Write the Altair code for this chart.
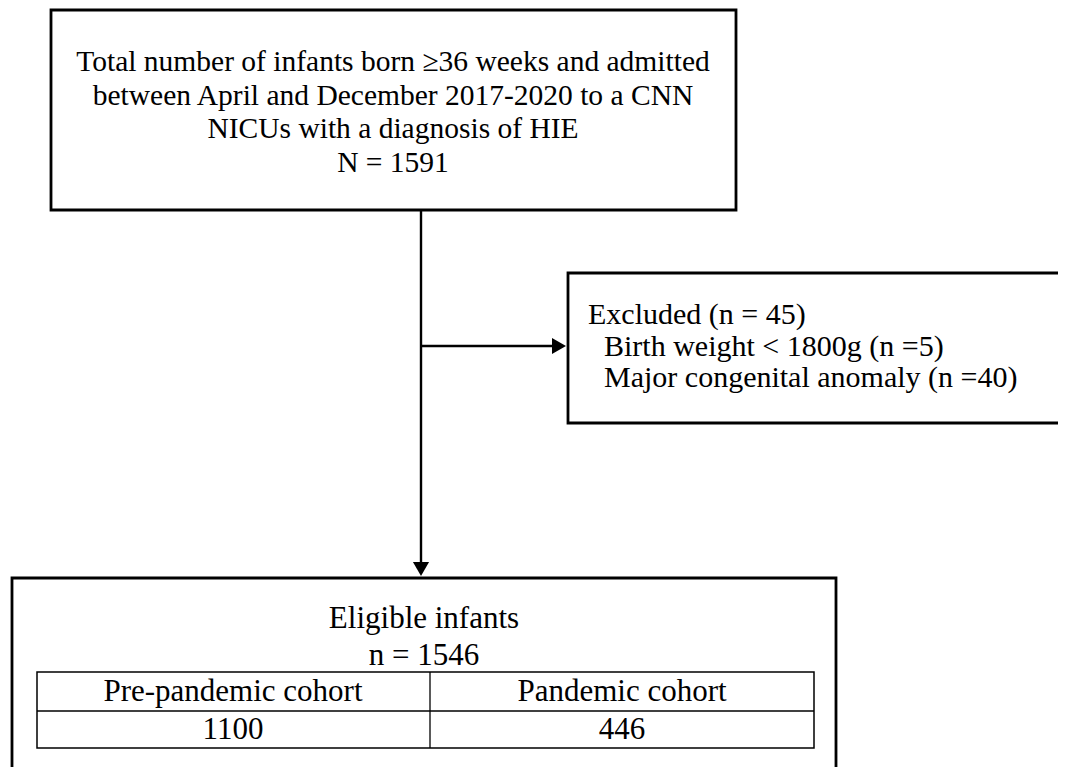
import altair as alt
import pandas as pd

# ---- text content ----
top_lines = [
    "Total number of infants born \u226536 weeks and admitted",
    "between April and December 2017-2020 to a CNN",
    "NICUs with a diagnosis of HIE",
    "N = 1591",
]
excl_head = ["Excluded (n = 45)"]
excl_items = [
    "Birth weight < 1800g (n =5)",
    "Major congenital anomaly (n =40)",
]
elig_lines = ["Eligible infants", "n = 1546"]
cohorts = ["Pre-pandemic cohort", "Pandemic cohort"]
cohort_counts = ["1100", "446"]

# ---- layout (reference pixel coordinates) ----
W, H = 1066, 775
M = 8
xs = alt.Scale(domain=[M, W - M], range=[0, W - 2 * M])
ys = alt.Scale(domain=[M, H - M], range=[0, H - 2 * M])

boxes = pd.DataFrame([
    {"x": 51, "x2": 736, "y": 10, "y2": 210},     # top box
    {"x": 568, "x2": 1080, "y": 273, "y2": 423},  # excluded box
    {"x": 12, "x2": 836, "y": 578, "y2": 800},    # eligible box
])
table = pd.DataFrame([
    {"x": 37, "x2": 814, "y": 672, "y2": 748},
])
rules = pd.DataFrame([
    {"x": 421, "x2": 421, "y": 210, "y2": 566},   # main vertical
    {"x": 421, "x2": 556, "y": 346, "y2": 346},   # side branch
])
table_rules = pd.DataFrame([
    {"x": 37, "x2": 814, "y": 711, "y2": 711},
    {"x": 430, "x2": 430, "y": 672, "y2": 748},
])
heads = pd.DataFrame([
    {"x": 559, "y": 346, "shape": "triangle-right"},
    {"x": 421, "y": 569, "shape": "triangle-down"},
])

top_df = pd.DataFrame({"t": top_lines, "x": [393] * 4, "y": [62, 96, 129, 163]})
excl_h_df = pd.DataFrame({"t": excl_head, "x": [588], "y": [315]})
excl_i_df = pd.DataFrame({"t": excl_items, "x": [604] * 2, "y": [347, 378]})
elig_df = pd.DataFrame({"t": elig_lines, "x": [424] * 2, "y": [619, 656]})
tab_df = pd.DataFrame({
    "t": cohorts + cohort_counts,
    "x": [233, 622, 233, 622],
    "y": [692, 692, 730, 730],
})

FONT = "Liberation Serif"

def X(f="x"):
    return alt.X(f + ":Q", scale=xs, axis=None)

def Y(f="y"):
    return alt.Y(f + ":Q", scale=ys, axis=None)

box_layer = alt.Chart(boxes).mark_rect(
    fill="white", stroke="black", strokeWidth=2.8
).encode(x=X(), x2="x2:Q", y=Y(), y2="y2:Q")

table_layer = alt.Chart(table).mark_rect(
    fill="white", stroke="black", strokeWidth=1.5
).encode(x=X(), x2="x2:Q", y=Y(), y2="y2:Q")

rule_layer = alt.Chart(rules).mark_rule(color="black", strokeWidth=2.4).encode(
    x=X(), x2="x2:Q", y=Y(), y2="y2:Q"
)
table_rule_layer = alt.Chart(table_rules).mark_rule(color="black", strokeWidth=1.3).encode(
    x=X(), x2="x2:Q", y=Y(), y2="y2:Q"
)
head_layer = alt.Chart(heads).mark_point(
    filled=True, color="black", opacity=1, size=260
).encode(x=X(), y=Y(), shape=alt.Shape("shape:N", scale=None, legend=None))

def text_layer(df, align, size):
    return alt.Chart(df).mark_text(
        font=FONT, fontSize=size, align=align, baseline="middle", color="black"
    ).encode(x=X(), y=Y(), text="t:N")

chart = alt.layer(
    box_layer,
    table_layer,
    table_rule_layer,
    rule_layer,
    head_layer,
    text_layer(top_df, "center", 29.5),
    text_layer(excl_h_df, "left", 30),
    text_layer(excl_i_df, "left", 30),
    text_layer(elig_df, "center", 31),
    text_layer(tab_df, "center", 31),
).properties(
    width=W - 2 * M, height=H - 2 * M, autosize="none", padding=0
).configure_view(stroke=None)

chart.save("out.html", embed_options={"renderer": "svg", "actions": False})
